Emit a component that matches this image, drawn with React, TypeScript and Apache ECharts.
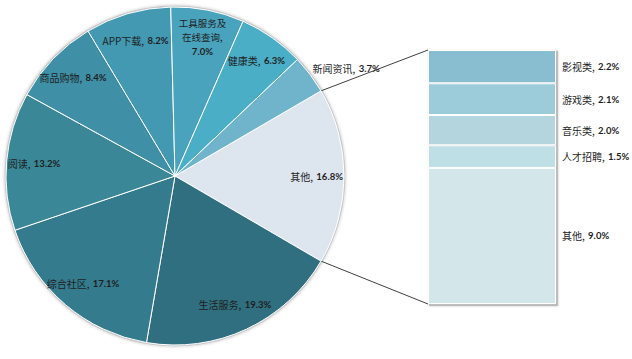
import React, { useEffect, useRef } from "react";
import * as echarts from "echarts";

const pieNames = ["其他", "生活服务", "综合社区", "阅读", "商品购物", "APP下载", "工具服务及在线查询", "健康类", "新闻资讯"];
const pieValues = [16.8, 19.3, 17.1, 13.2, 8.4, 8.2, 7.0, 6.3, 3.7];
const pieColors = ["#dde5ee", "#2f6f7f", "#357b8e", "#3a8797", "#3f8fa6", "#4398b2", "#4aa3bd", "#4aaec6", "#70b4cb"];

const barNames = ["影视类", "游戏类", "音乐类", "人才招聘", "其他"];
const barValues = [2.2, 2.1, 2.0, 1.5, 9.0];
const barColors = ["#89bdd0", "#9ccbda", "#b4d5de", "#bfdfe6", "#d3e6e9"];

const CX = 175;
const CY = 176;
const R = 169;
const GRID = { left: 428, top: 50, width: 128, height: 254 };

const FONT_N = "'Noto Sans CJK SC', sans-serif";
const FONT_V = "Lato, 'Liberation Sans', sans-serif";

const rich = {
  n: { fontFamily: FONT_N, fontSize: 10, color: "#1e1e1e" },
  v: { fontFamily: FONT_V, fontSize: 9.5, fontWeight: "bold" as const, color: "#1e1e1e" },
};

const richSmall = {
  n: { fontFamily: FONT_N, fontSize: 9.5, color: "#1e1e1e", lineHeight: 14 },
  v: { fontFamily: FONT_V, fontSize: 9.5, fontWeight: "bold" as const, color: "#1e1e1e", lineHeight: 14 },
};

const fmt = (p: any) => `{n|${p.name},} {v|${Number(p.value).toFixed(1)}%}`;

export default function App() {
  const ref = useRef<HTMLDivElement>(null);
  useEffect(() => {
    document.body.style.margin = "0";
    const chart = echarts.init(ref.current!, undefined, { renderer: "svg" });
    const total = pieValues.reduce((a, b) => a + b, 0);
    const half = (pieValues[0] / total) * 360 / 2;
    const rad = (half * Math.PI) / 180;
    const upper = [CX + R * Math.cos(rad), CY - R * Math.sin(rad)];
    const lower = [CX + R * Math.cos(rad), CY + R * Math.sin(rad)];

    const mainData = pieNames.map((n, i) => {
      const item: any = { name: n, value: pieValues[i], itemStyle: { color: pieColors[i] } };
      if (n === "新闻资讯") {
        item.label = { show: true, position: "outside", distanceToLabelLine: 0, formatter: fmt, rich, padding: [0, 0, 8, 0] };
        item.labelLine = { show: false, length: 3, length2: 0 };
      }
      return item;
    });

    const labelData = pieNames.map((n, i) => {
      const item: any = { name: n, value: pieValues[i] };
      if (n === "工具服务及在线查询") {
        item.label = { formatter: "{n|工具服务及}\n{n|在线查询,}\n{v|7.0%}", lineHeight: 14, rich: richSmall };
      }
      if (n === "新闻资讯") {
        item.label = { show: false };
      }
      return item;
    });

    const barSeries = barNames.map((n, i) => ({
      type: "bar",
      name: n,
      stack: "s",
      barWidth: "100%",
      data: [barValues[i]],
      itemStyle: {
        color: barColors[i],
        borderColor: "#ffffff",
        borderWidth: 1,
      },
      label: {
        show: true,
        position: "right",
        distance: 6,
        formatter: (p: any) => `{n|${p.seriesName},} {v|${Number(p.value).toFixed(1)}%}`,
        rich,
      },
    }));

    chart.setOption({
      animation: false,
      backgroundColor: "#ffffff",
      grid: { ...GRID, containLabel: false },
      xAxis: { type: "category", data: ["其他"], show: false },
      yAxis: { type: "value", inverse: true, min: 0, max: 16.8, show: false },
      graphic: [
        {
          type: "circle",
          z: -1,
          shape: { cx: CX, cy: CY, r: R + 1.5 },
          style: { fill: "#c9c9c9", shadowBlur: 3, shadowColor: "rgba(0,0,0,0.25)" },
        },
        {
          type: "rect",
          z: -1,
          shape: { x: GRID.left + 1, y: GRID.top + 1, width: GRID.width + 1, height: GRID.height + 1 },
          style: { fill: "#bdbdbd", shadowBlur: 2, shadowColor: "rgba(0,0,0,0.25)" },
        },
        {
          type: "line",
          shape: { x1: upper[0], y1: upper[1], x2: GRID.left, y2: GRID.top },
          style: { stroke: "#404040", lineWidth: 1 },
        },
        {
          type: "line",
          shape: { x1: lower[0], y1: lower[1], x2: GRID.left, y2: GRID.top + GRID.height },
          style: { stroke: "#404040", lineWidth: 1 },
        },
      ],
      series: [
        {
          type: "pie",
          center: [CX, CY],
          radius: [0, R],
          startAngle: half,
          clockwise: true,
          avoidLabelOverlap: false,
          label: { show: false },
          labelLine: { show: false },
          itemStyle: { borderColor: "#ffffff", borderWidth: 1 },
          emphasis: { disabled: true },
          data: mainData,
        },
        {
          type: "pie",
          silent: true,
          center: [CX, CY],
          radius: [R * 0.5, R * 1.14],
          startAngle: half,
          clockwise: true,
          avoidLabelOverlap: false,
          itemStyle: { color: "rgba(0,0,0,0)", borderWidth: 0 },
          emphasis: { disabled: true },
          label: {
            show: true,
            position: "inside",
            formatter: fmt,
            rich,
          },
          labelLine: { show: false },
          data: labelData,
        },
        ...barSeries,
      ],
    });
    return () => chart.dispose();
  }, []);
  return <div ref={ref} style={{ width: 632, height: 359 }} />;
}
